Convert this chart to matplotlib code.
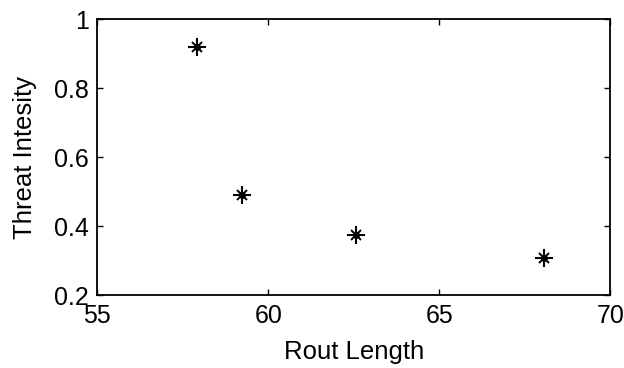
import matplotlib
matplotlib.use("Agg")
import matplotlib.pyplot as plt

plt.rcParams['font.family'] = ['Liberation Sans', 'DejaVu Sans']

route_length = [57.9, 59.23, 62.57, 68.06]
threat = [0.919, 0.49, 0.374, 0.307]

xticks = [55, 60, 65, 70]
yticks = [0.2, 0.4, 0.6, 0.8, 1.0]
yticklabels = ["0.2", "0.4", "0.6", "0.8", "1"]

fig = plt.figure(figsize=(6.24, 3.68), dpi=100)
ax = fig.add_axes([0.156, 0.1976, 0.822, 0.75])

# matlab style '*' = plus + small x
ax.plot(route_length, threat, linestyle="none", marker="+", markersize=13,
        markeredgewidth=1.5, color="black")
ax.plot(route_length, threat, linestyle="none", marker="x", markersize=7,
        markeredgewidth=1.4, color="black")
ax.plot(route_length, threat, linestyle="none", marker="o", markersize=4,
        color="black")

ax.set_xlim(55, 70)
ax.set_ylim(0.2, 1.0)
ax.set_xticks(xticks)
ax.set_xticklabels([str(t) for t in xticks])
ax.set_yticks(yticks)
ax.set_yticklabels(yticklabels)

ax.tick_params(direction="in", length=4, width=1, top=True, right=True,
               labelsize=18, colors="black", pad=6)
for s in ax.spines.values():
    s.set_linewidth(1.3)

ax.set_xlabel("Rout Length", fontsize=18.5, labelpad=9)
ax.set_ylabel("Threat Intesity", fontsize=18.5, labelpad=12)

fig.savefig("out.png", dpi=100)
